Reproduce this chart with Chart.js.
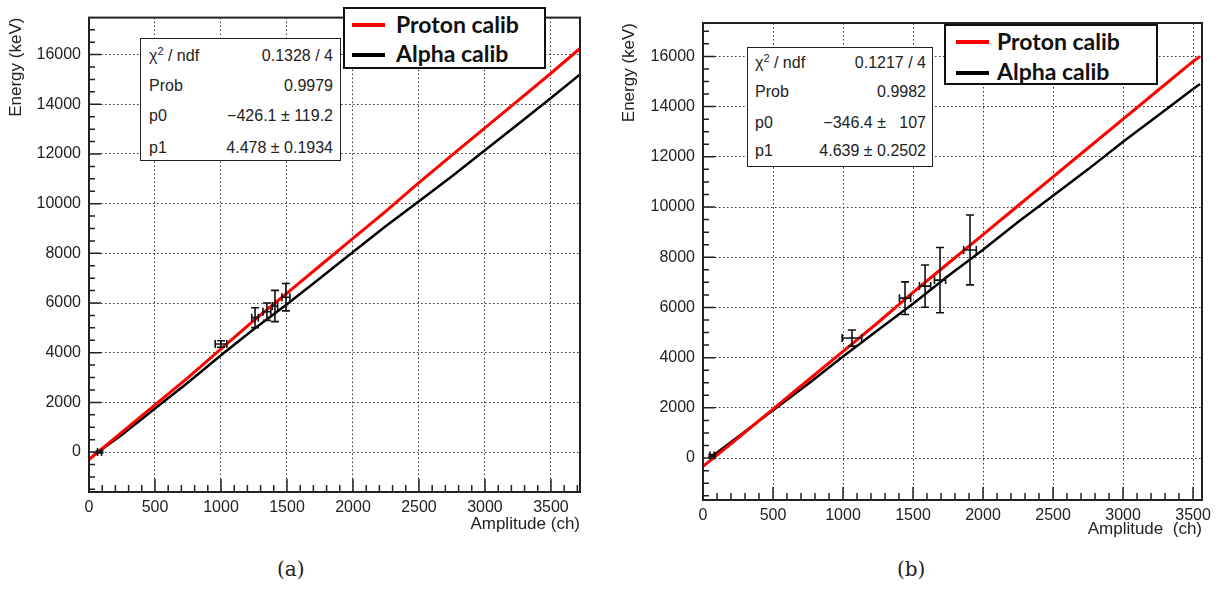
<!DOCTYPE html>
<html>
<head>
<meta charset="utf-8">
<script src="https://cdn.jsdelivr.net/npm/chart.js@4.4.0/dist/chart.umd.min.js"></script>
<style>
  body { margin: 0; background: #fff; width: 1225px; height: 589px; position: relative; overflow: hidden;
         font-family: Arial, Helvetica, sans-serif; color: #222; }
  canvas { position: absolute; top: 0; }
  .stats { position: absolute; border: 1.5px solid #222; background: #fff; font-size: 16px; box-sizing: border-box; }
  .stats .row { position: absolute; height: 20px; line-height: 20px; white-space: pre; }
  .stats .v { position: absolute; right: 0; top: 0; }
  .stats sup { font-size: 11px; line-height: 0; }
  .legend { position: absolute; border: 2px solid #111; background: #fff; box-sizing: border-box;
            font-family: Lato, "Open Sans", sans-serif; font-weight: bold; font-size: 23px; color: #111; }
  .legend .item { position: absolute; height: 28px; line-height: 28px; white-space: nowrap; }
  .legend .swatch { position: absolute; height: 4px; width: 33px; }
  .caption { position: absolute; top: 557px; font-family: "DejaVu Serif", serif; font-size: 20px; }
</style>
</head>
<body>
<canvas id="chartA" width="610" height="545" style="left:0px"></canvas>
<canvas id="chartB" width="610" height="545" style="left:615px"></canvas>

<!-- fit boxes -->
<div class="stats" style="left:140px;top:38px;width:201px;height:123px;">
  <div class="row" style="left:8px;right:7px;top:7px;">χ<sup>2</sup> / ndf<span class="v">0.1328 / 4</span></div>
  <div class="row" style="left:8px;right:7px;top:37px;">Prob<span class="v">0.9979</span></div>
  <div class="row" style="left:8px;right:7px;top:67px;">p0<span class="v">−426.1 ± 119.2</span></div>
  <div class="row" style="left:8px;right:7px;top:99px;">p1<span class="v">4.478 ± 0.1934</span></div>
</div>
<div class="stats" style="left:747px;top:47px;width:186px;height:120px;">
  <div class="row" style="left:7px;right:6px;top:5px;">χ<sup>2</sup> / ndf<span class="v">0.1217 / 4</span></div>
  <div class="row" style="left:7px;right:6px;top:34px;">Prob<span class="v">0.9982</span></div>
  <div class="row" style="left:7px;right:6px;top:65px;">p0<span class="v">−346.4 ±   107</span></div>
  <div class="row" style="left:7px;right:6px;top:93px;">p1<span class="v">4.639 ± 0.2502</span></div>
</div>

<!-- legends -->
<div class="legend" style="left:343px;top:7px;width:203px;height:62px;">
  <div class="swatch" style="left:7px;top:14px;background:#f00;"></div>
  <div class="item" style="left:51px;top:1px;">Proton calib</div>
  <div class="swatch" style="left:7px;top:44px;background:#000;"></div>
  <div class="item" style="left:51px;top:30px;">Alpha calib</div>
</div>
<div class="legend" style="left:944px;top:24px;width:214px;height:61px;">
  <div class="swatch" style="left:10px;top:14px;background:#f00;"></div>
  <div class="item" style="left:51px;top:1px;">Proton calib</div>
  <div class="swatch" style="left:10px;top:45px;background:#000;"></div>
  <div class="item" style="left:51px;top:31px;">Alpha calib</div>
</div>

<div class="caption" style="left:277px;">(a)</div>
<div class="caption" style="left:897px;">(b)</div>

<script>
// ---- panel (a) data ----
const xTicksA = [0, 500, 1000, 1500, 2000, 2500, 3000, 3500];
const yTicksA = [0, 2000, 4000, 6000, 8000, 10000, 12000, 14000, 16000];
const ampA_proton = [0, 250, 500, 750, 1000, 1250, 1500, 1750, 2000, 2250, 2500, 2750, 3000, 3250, 3500, 3720];
const enA_proton  = [-300, 800, 1900, 3000, 4150, 5300, 6400, 7500, 8600, 9700, 10850, 11950, 13050, 14150, 15250, 16250];
const ampA_alpha  = [30, 250, 500, 750, 1000, 1250, 1500, 1750, 2000, 2250, 2500, 2750, 3000, 3250, 3500, 3720];
const enA_alpha   = [-150, 700, 1750, 2800, 3900, 4950, 5950, 7000, 8050, 9100, 10100, 11100, 12150, 13200, 14250, 15200];
const ampA_pts = [80, 1000, 1258, 1348, 1409, 1492];
const enA_pts  = [0, 4350, 5410, 5650, 5880, 6235];
const ampA_err = [15, 44, 25, 30, 20, 30];
const enA_err  = [40, 130, 400, 350, 630, 550];

// ---- panel (b) data ----
const xTicksB = [0, 500, 1000, 1500, 2000, 2500, 3000, 3500];
const yTicksB = [0, 2000, 4000, 6000, 8000, 10000, 12000, 14000, 16000];
const ampB_proton = [0, 250, 500, 750, 1000, 1250, 1500, 1750, 2000, 2250, 2500, 2750, 3000, 3250, 3500, 3550];
const enB_proton  = [-330, 800, 1950, 3100, 4250, 5400, 6600, 7750, 8900, 10050, 11200, 12350, 13500, 14650, 15800, 16000];
const ampB_alpha  = [50, 250, 500, 750, 1000, 1250, 1500, 1750, 2000, 2250, 2500, 2750, 3000, 3250, 3500, 3550];
const enB_alpha   = [0, 850, 1900, 2950, 4050, 5100, 6150, 7250, 8300, 9400, 10450, 11500, 12600, 13650, 14700, 14900];
const ampB_pts = [65, 1064, 1443, 1586, 1693, 1907];
const enB_pts  = [100, 4780, 6370, 6850, 7090, 8290];
const ampB_err = [15, 70, 40, 40, 40, 45];
const enB_err  = [40, 320, 650, 840, 1300, 1390];

function toXY(xs, ys) {
    return xs.map((x, i) => ({ x: x, y: ys[i] }));
}

// ROOT style: frame, inward ticks, error bars
const rootStyle = {
    id: 'rootStyle',
    afterDatasetsDraw(chart, args, opts) {
        const { ctx, chartArea: a, scales: { x, y } } = chart;
        ctx.save();
        // 1. error bars
        ctx.strokeStyle = '#111';
        ctx.lineWidth = 1.6;
        const cap = 4;
        opts.px.forEach((v, i) => {
            const cx = x.getPixelForValue(v), cy = y.getPixelForValue(opts.py[i]);
            const x1 = x.getPixelForValue(v - opts.ex[i]), x2 = x.getPixelForValue(v + opts.ex[i]);
            const y1 = y.getPixelForValue(opts.py[i] - opts.ey[i]), y2 = y.getPixelForValue(opts.py[i] + opts.ey[i]);
            ctx.beginPath();
            ctx.moveTo(x1, cy); ctx.lineTo(x2, cy);
            ctx.moveTo(cx, y1); ctx.lineTo(cx, y2);
            ctx.moveTo(x1, cy - cap); ctx.lineTo(x1, cy + cap);
            ctx.moveTo(x2, cy - cap); ctx.lineTo(x2, cy + cap);
            ctx.moveTo(cx - cap, y1); ctx.lineTo(cx + cap, y1);
            ctx.moveTo(cx - cap, y2); ctx.lineTo(cx + cap, y2);
            ctx.stroke();
        });
        // 2. ticks (inside the frame)
        ctx.strokeStyle = '#222';
        ctx.lineWidth = 1.5;
        ctx.beginPath();
        for (let v = 0; v <= x.max; v += 100) {
            const px = x.getPixelForValue(v);
            const len = v % 500 === 0 ? 13 : 7;
            ctx.moveTo(px, a.bottom); ctx.lineTo(px, a.bottom - len);
        }
        for (let v = Math.ceil(y.min / 500) * 500; v <= y.max; v += 500) {
            const py = y.getPixelForValue(v);
            const len = v % 2000 === 0 ? 12 : 6;
            ctx.moveTo(a.left, py); ctx.lineTo(a.left + len, py);
        }
        ctx.stroke();
        // 3. frame
        ctx.lineWidth = 2;
        ctx.strokeRect(a.left, a.top, a.right - a.left, a.bottom - a.top);
        ctx.restore();
    }
};

function makePanel(id, cfg) {
    const tickFont = { family: 'Arial, Helvetica, sans-serif', size: 16 };
    const titleFont = { family: 'Arial, Helvetica, sans-serif', size: 17 };
    return new Chart(document.getElementById(id).getContext('2d'), {
        type: 'scatter',
        data: {
            datasets: [
                { label: 'Proton calib', data: cfg.proton, showLine: true, borderColor: '#ff0000',
                  borderWidth: 3, pointRadius: 0, tension: 0 },
                { label: 'Alpha calib', data: cfg.alpha, showLine: true, borderColor: '#000000',
                  borderWidth: 2.5, pointRadius: 0, tension: 0 }
            ]
        },
        options: {
            responsive: false,
            animation: false,
            devicePixelRatio: 1,
            layout: { padding: cfg.padding },
            plugins: {
                legend: { display: false },
                tooltip: { enabled: false },
                rootStyle: { px: cfg.px, py: cfg.py, ex: cfg.ex, ey: cfg.ey }
            },
            scales: {
                x: {
                    type: 'linear', min: 0, max: cfg.xMax,
                    afterBuildTicks: s => { s.ticks = cfg.xTicks.map(v => ({ value: v })); },
                    afterFit: s => { s.height = cfg.xHeight; },
                    grid: { color: '#333', lineWidth: 1, drawTicks: false },
                    border: { display: false, dash: [1.5, 2.5] },
                    ticks: { font: tickFont, color: '#222', padding: 6, maxRotation: 0, callback: v => String(v) },
                    title: { display: true, text: cfg.xTitle, align: 'end', font: titleFont, color: '#222',
                             padding: { top: 0, bottom: cfg.xTitlePad } }
                },
                y: {
                    type: 'linear', min: cfg.yMin, max: cfg.yMax,
                    afterBuildTicks: s => { s.ticks = cfg.yTicks.map(v => ({ value: v })); },
                    afterFit: s => { s.width = cfg.yWidth; },
                    grid: { color: '#333', lineWidth: 1, drawTicks: false },
                    border: { display: false, dash: [1.5, 2.5] },
                    ticks: { font: tickFont, color: '#222', padding: 8, callback: v => String(v) },
                    title: { display: true, text: 'Energy (keV)', align: 'end', font: titleFont, color: '#222',
                             padding: { top: cfg.yTitlePad, bottom: 0 } }
                }
            }
        },
        plugins: [rootStyle]
    });
}

makePanel('chartA', {
    proton: toXY(ampA_proton, enA_proton), alpha: toXY(ampA_alpha, enA_alpha),
    px: ampA_pts, py: enA_pts, ex: ampA_err, ey: enA_err,
    xTicks: xTicksA, yTicks: yTicksA, xMax: 3720, yMin: -1608, yMax: 17490,
    padding: { top: 5, right: 30, bottom: 0, left: 0 },
    xHeight: 53, yWidth: 89, xTitlePad: 10, yTitlePad: 6,
    xTitle: 'Amplitude (ch)'
});

makePanel('chartB', {
    proton: toXY(ampB_proton, enB_proton), alpha: toXY(ampB_alpha, enB_alpha),
    px: ampB_pts, py: enB_pts, ex: ampB_err, ey: enB_err,
    xTicks: xTicksB, yTicks: yTicksB, xMax: 3564, yMin: -1670, yMax: 17330,
    padding: { top: 23, right: 23, bottom: 0, left: 0 },
    xHeight: 45, yWidth: 88, xTitlePad: 5, yTitlePad: 4,
    xTitle: 'Amplitude  (ch)'
});
</script>
</body>
</html>
